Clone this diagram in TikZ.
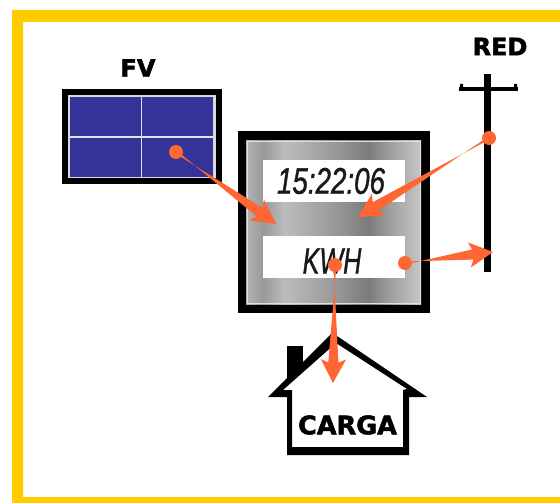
\documentclass[tikz,border=0pt]{standalone}
\usepackage{fontspec}
\usepackage{graphicx}
\setmainfont{Liberation Sans}[ItalicFeatures={FakeBold=1.2}]
\newfontfamily\labfont{DejaVu Sans}[BoldFeatures={FakeBold=2}]
\usetikzlibrary{calc}
\definecolor{frameyellow}{RGB}{255,204,0}
\definecolor{panelblue}{RGB}{51,51,153}
\definecolor{flow}{RGB}{255,102,51}
\pgfdeclarehorizontalshading{meterbg}{100bp}{
  color(0bp)=(white!78!black); color(14bp)=(white!80!black); color(24bp)=(white!72!black);
  color(30bp)=(white!60!black); color(36bp)=(white!74!black); color(44bp)=(white!66!black);
  color(52bp)=(white!58!black); color(60bp)=(white!48!black); color(66bp)=(white!62!black);
  color(74bp)=(white!76!black); color(84bp)=(white!78!black); color(100bp)=(white!80!black)}
\tikzset{
  lab/.style={font=\labfont\bfseries\fontsize{24}{24}\selectfont,inner sep=0pt,text=black},
  lcd/.style={font=\itshape\fontsize{37}{37}\selectfont,inner sep=0pt,text=black!90},
  display/.style={fill=white,draw=none,inner sep=0pt,minimum width=142pt,minimum height=42pt},
  dotnode/.style={circle,fill=flow,draw=none,inner sep=0pt,minimum size=14pt}
}
\newcommand{\flowarrow}[2]{%
  \fill[flow] ($(#1)!1.5pt!90:(#2)$) -- ($(#2)!21pt!14:(#1)$) -- ($(#2)!27pt!28:(#1)$) -- (#2)
    -- ($(#2)!27pt!-28:(#1)$) -- ($(#2)!21pt!-14:(#1)$) -- ($(#1)!1.5pt!-90:(#2)$) -- cycle;}
\begin{document}
\begin{tikzpicture}[x=1pt,y=-1pt]
\useasboundingbox (0,0) rectangle (560,503);
\fill[white] (0,0) rectangle (560,503);
\fill[frameyellow] (12,10) -- (560,10) -- (560,22) -- (23,22) -- (23,497) -- (560,497) -- (560,503) -- (12,503) -- cycle;
\fill[black] (62,89) rectangle (222,184);
\fill[white!85!black] (68,95) rectangle (216,178);
\fill[panelblue] (70,97) rectangle (213,177);
\draw[white!85!panelblue,line width=1.3pt] (141.5,97) -- (141.5,177) (70,137) -- (213,137);
\node[lab] (fv) at (138,68) {FV};
\fill[black] (238,131) rectangle (430,313);
\shade[shading=meterbg] (246,140) rectangle (421,304);
\draw[white!88!black,line width=0.8pt] (247,141) rectangle (420,303);
\node[display] (d1) at (334,180.5) {};
\node[display] (d2) at (334,257) {};
\node[lcd] (time) at (331,181) {\scalebox{0.75}[1]{15:22:06}};
\node[lcd] (kwh) at (332,261) {\scalebox{0.68}[1]{KWH}};
\fill[black] (484,74) rectangle (491,272);
\fill[black] (459,87) rectangle (518,91);
\fill[black] (460,84) rectangle (463,91) (514,84) rectangle (517,91);
\node[lab] (red) at (500,46.5) {RED};
\fill[black,even odd rule] (268,397) -- (332,333) -- (340,338) -- (427,397) -- (409,397) -- (409,455) -- (287,455) -- (287,397) -- cycle
  (283,390) -- (292,390) -- (292,447) -- (403,447) -- (403,390) -- (407,389) -- (336,343) -- cycle;
\fill[black] (287,346) rectangle (303,362);
\fill[black] (287,360) -- (303,360) -- (303,364) -- (287,380) -- cycle;
\node[lab,font=\labfont\bfseries\fontsize{25.5}{25}\selectfont] (carga) at (347.5,425) {CARGA};
\node[dotnode] (p1) at (176,152) {};
\node[dotnode] (p2) at (489,138) {};
\node[dotnode] (p3) at (405,263) {};
\node[dotnode] (p4) at (335,265) {};
\coordinate (t1) at (276,224);
\coordinate (t2) at (358,217);
\coordinate (t3) at (493,252);
\coordinate (t4) at (333,383);
\flowarrow{p1.center}{t1}
\flowarrow{p2.center}{t2}
\flowarrow{p3.center}{t3}
\flowarrow{p4.center}{t4}
\end{tikzpicture}
\end{document}
